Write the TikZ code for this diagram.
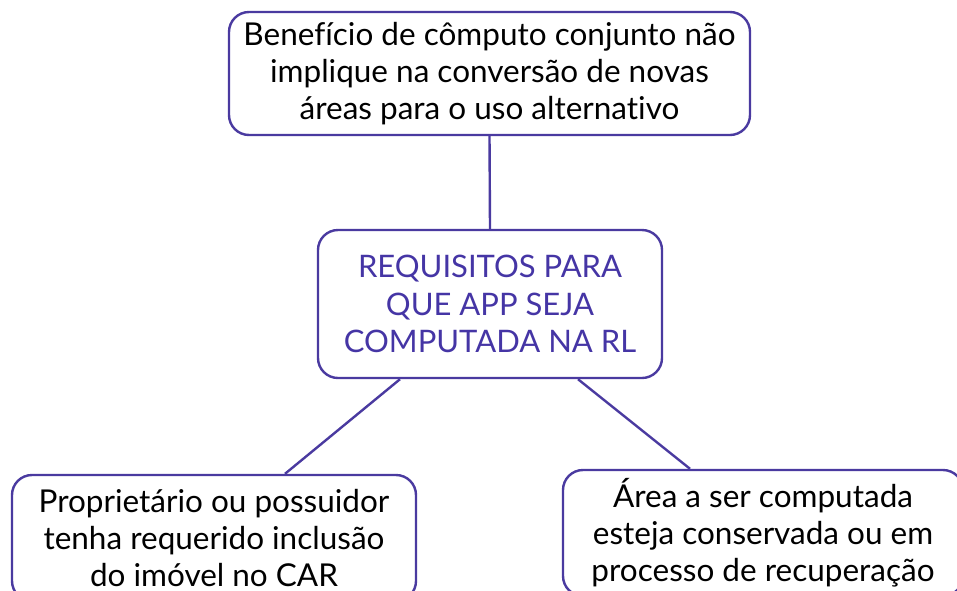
\documentclass[tikz,border=0pt]{standalone}
\usepackage{fontspec}
\setmainfont{Lato}[Ligatures={NoCommon,TeX}]
\definecolor{boxline}{HTML}{4A3AA0}
\definecolor{titletext}{HTML}{4535A5}
\begin{document}
\begin{tikzpicture}[x=1pt,y=-1pt,
  box/.style={draw=boxline, line width=2.4pt, rounded corners=20pt, align=center, inner sep=0pt},
  conn/.style={draw=boxline, line width=2.4pt},
  body/.style={font=\fontsize{31.5}{37}\selectfont, text=black}]
\useasboundingbox (0,0) rectangle (957,590);
\clip (0,0) rectangle (957,590);
\node[box, body, minimum width=521pt, minimum height=123pt] (top) at (489.5,73.5)
  {Benefício de cômputo conjunto não\\implique na conversão de novas\\áreas para o uso alternativo};
\node[box, font=\fontsize{31}{37.5}\selectfont, text=titletext, minimum width=344pt, minimum height=148pt] (mid) at (490,304)
  {REQUISITOS PARA\\QUE APP SEJA\\COMPUTADA NA RL};
\node[box, body, minimum width=404pt, minimum height=126pt] (bl) at (214,538)
  {Proprietário ou possuidor\\tenha requerido inclusão\\do imóvel no CAR};
\node[box, body, minimum width=400pt, minimum height=126pt] (br) at (763,533)
  {Área a ser computada\\esteja conservada ou em\\processo de recuperação};
\draw[conn] (top.south) -- (mid.north);
\draw[conn] ([xshift=-90pt]mid.south) -- ([xshift=71pt]bl.north);
\draw[conn] ([xshift=88pt]mid.south) -- ([xshift=-73pt]br.north);
\end{tikzpicture}
\end{document}
